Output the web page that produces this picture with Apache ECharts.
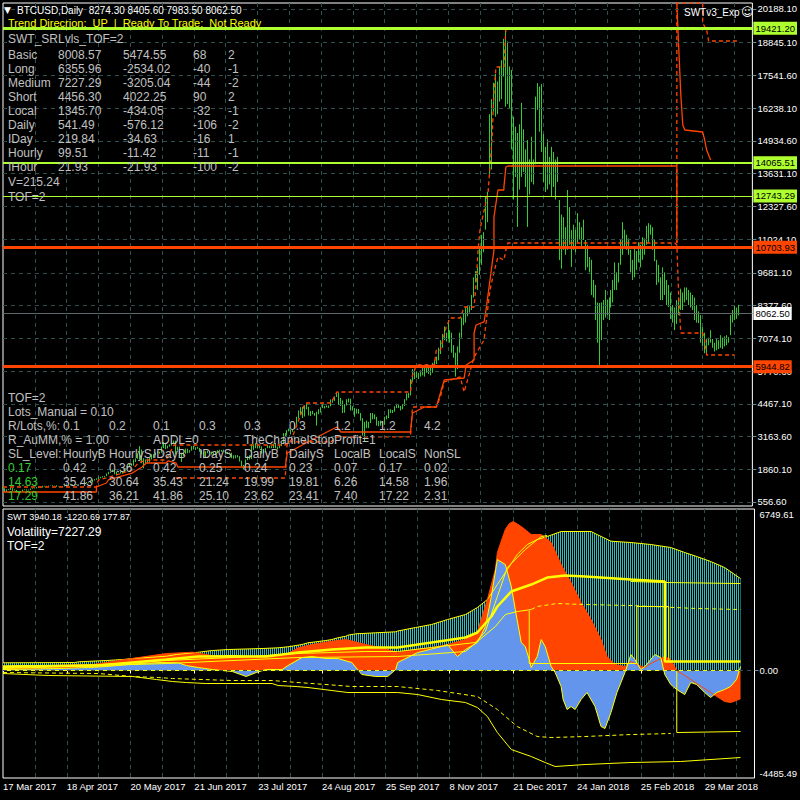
<!DOCTYPE html>
<html><head><meta charset="utf-8">
<script src="https://cdn.jsdelivr.net/npm/echarts@6/dist/echarts.min.js"></script>
<style>html,body{margin:0;padding:0;background:#000;}#c{width:800px;height:800px;}</style>
</head><body><div id="c"></div>
<script>
// ---------------- DATA ----------------
const dateTickLabels = ['17 Mar 2017','18 Apr 2017','20 May 2017','21 Jun 2017','23 Jul 2017','24 Aug 2017','25 Sep 2017','8 Nov 2017','21 Dec 2017','24 Jan 2018','25 Feb 2018','29 Mar 2018'];
const priceTickValues = [20188.10,18845.10,17541.60,16238.10,14934.60,13631.10,12327.60,11024.10,9681.10,8377.60,7074.10,5770.60,4467.10,3163.60,1860.10,556.60];
const priceTickLabels = ['20188.10','18845.10','17541.60','16238.10','14934.60','13631.10','12327.60','11024.10','9681.10','8377.60','7074.10','5770.60','4467.10','3163.60','1860.10','556.60'];
const lowerTickValues = [6749.61, 0, -4485.49];
const lowerTickLabels = ['6749.61','0.00','-4485.49'];
const headerOHLC = ['8274.30','8405.60','7983.50','8062.50'];
const closePrice = 8062.50;
const levelValues = [19421.20, 14065.51, 12743.29, 10703.93, 5944.82];

const barLow = [
1080,960,970,1030,1040,980,1020,920,890,940,960,1030,1010,1020,1030,
1070,1090,1100,1120,1110,1130,1170,1180,1180,1200,1200,1210,1160,1170,1170,1170,1170,1200,1200,1220,1240,1230,1230,1240,1250,1270,1300,1310,1310,1320,
1340,1410,1440,1470,1500,1530,1540,1590,1660,1720,1770,1660,1620,1740,1690,1690,1730,1800,1890,1980,2000,2000,2150,2280,2250,2100,1900,2050,2100,2150,2250,
2300,2420,2500,2480,2520,2700,2660,2690,2760,2800,2870,2450,2600,2380,2150,2380,2480,2500,2520,2600,2650,2630,2680,2560,2450,2300,2330,2500,2500,2450,
2400,2420,2500,2570,2560,2580,2480,2490,2480,2300,2280,2300,2330,2170,1960,1840,1920,2220,2250,2270,2630,2700,2690,2690,2480,2500,2530,2700,2700,2700,2700,
2700,2650,2700,2780,2860,3150,3200,3370,3250,3350,3450,3630,3880,4020,3900,3960,4250,4000,3980,4050,3990,3600,4050,4120,4300,4280,4320,4300,4370,4510,4580,
4740,4420,4380,4100,4110,4400,4520,4200,4200,3950,4080,4070,3800,3200,2980,3500,3500,3700,3850,3850,3600,3580,3600,3600,
3630,3850,3900,4100,4100,4150,4300,4300,4200,4250,4380,4600,4700,4800,5350,5450,5500,5450,5550,5600,5550,5700,5650,5600,5700,5950,6050,6200,6450,6700,7000,6950,
7050,6900,6500,6300,5550,5850,6500,7100,7600,7700,7950,8100,8200,8700,9300,9000,9600,10000,10500,11400,11700,13600,13800,16100,15900,16000,16500,16600,17500,16300,16400,16200,
14600,12600,13500,11510,13000,13500,13700,13100,11510,12800,13300,13200,14000,16170,15300,14500,13300,12900,13000,13200,12700,13100,12600,13300,10190,9850,10600,10400,10600,10800,9920,10600,
10500,10900,11000,10700,10990,9790,9900,9700,8800,8700,7800,6900,5930,7000,7800,7900,8000,7800,8300,8500,9000,9000,9300,10000,10400,10700,10600,10400,9700,9400,9500,9800,10100,
9900,10200,10400,10800,10900,11200,10600,10150,9200,9300,8600,8600,8800,8400,8320,7850,7700,7400,7650,8000,8200,8200,8500,8600,8400,8300,8200,7800,7700,7680,6900,6750,6480,
6480,6800,6900,6700,6550,6600,6650,6700,6650,6750,6800,6900,7200,7700,7800,7850,7983.5];
const barHigh = [
1180,1100,1060,1065,1120,1110,1060,1040,970,1000,1050,1060,1060,1050,1090,
1100,1110,1150,1160,1140,1200,1200,1200,1210,1215,1230,1225,1220,1190,1190,1190,1210,1220,1230,1260,1260,1260,1260,1260,1280,1310,1350,1350,1340,1350,
1450,1470,1500,1560,1560,1580,1590,1690,1760,1770,1850,1830,1760,1790,1770,1760,1840,1900,1990,2080,2090,2250,2290,2490,2780,2650,2300,2250,2290,2330,2450,
2460,2520,2580,2560,2760,2950,2880,2800,2850,2920,3000,3000,2760,2760,2520,2530,2680,2680,2620,2780,2790,2740,2760,2710,2620,2550,2580,2600,2580,2560,
2530,2540,2620,2640,2630,2640,2600,2550,2530,2520,2420,2420,2420,2380,2200,2030,2250,2380,2420,2850,2850,2900,2810,2800,2770,2620,2700,2820,2800,2780,2880,
2900,2760,2830,2880,3300,3300,3420,3480,3440,3450,3700,3950,4200,4330,4350,4400,4480,4350,4180,4190,4100,4150,4250,4330,4450,4380,4400,4400,4640,4650,4760,
4920,4920,4700,4600,4450,4650,4680,4670,4370,4300,4270,4260,4100,3900,3750,3800,3750,4100,4100,4050,3950,3780,3800,3780,
3950,4000,4250,4250,4220,4370,4470,4420,4380,4450,4650,4880,4900,5450,5850,5850,5750,5700,5800,5900,6000,6050,5950,6000,6100,6200,6350,6700,7000,7250,7550,7300,
7800,7400,7300,6800,6500,6750,7300,7900,8050,8300,8400,8350,8800,9500,9750,9900,10700,11200,11300,12700,12900,16000,16600,17250,17600,17300,17900,18150,19000,19430,18900,17900,
17760,15900,15500,15250,15600,16450,15400,14600,14970,14200,15100,14200,16700,17240,17100,17200,15200,14700,15000,14300,14700,14500,14200,14300,12580,12000,11900,11500,12980,12300,11390,11600,
11400,12060,11700,11500,11800,10990,10800,10310,10200,9400,9200,8500,8480,8500,8600,9000,8600,8700,9000,9400,10100,9700,10080,11000,11700,11400,11200,11050,10600,10200,10700,10550,10900,
10800,11100,11050,11550,11660,11600,11500,11000,10200,10000,9500,9900,9700,9400,9200,8900,8400,8300,8600,8700,9050,8900,9100,9100,9000,8900,8800,8700,8400,8150,8000,7520,7300,
7060,7100,7400,7050,6900,7050,7000,7200,7100,7150,7200,7120,8000,8200,8400,8300,8405.6];

// main pane indicator lines [barIndex, price]
const stopSolid = [[0,955],[47,955],[47,1154],[52,1313],[53,1433],[65,1711],[70,1950],[72,2110],[82,2110],[83,2190],[87,2110],[88,1950],[142,1950],[143,2508],[163,3344],[168,3543],[170,3344],[205,3344],[206,4100],[212,4340],[218,4340],[222,5415],[232,5495],[233,6012],[237,6211],[237,7286],[238,7605],[242,7725],[243,8202],[247,10591],[247,11906],[249,12980],[252,12980],[252,13100],[253,13896],[254,13936],[339,13936],[339,10870]];
const stopSolidTop = [[339,20420],[340,18555],[341,16764],[342,15569],[343,15370],[352,15290],[353,14971],[354,14573],[356,14175]];
const dashUpper = [[0,1154],[47,1154],[48,1433],[52,1513],[65,1831],[68,2110],[72,2230],[82,2230],[86,2827],[142,2827],[145,3025],[152,4499],[165,4499],[168,4937],[205,4937],[206,5600],[208,6012],[217,6012],[218,6610],[220,6610],[223,7530],[225,7884],[230,7884],[232,8322],[237,8322],[238,9277],[239,10591],[240,11428],[244,12861],[246,14971],[247,16843],[248,17878],[252,17878],[253,19431],[254,19431]];
const dashLower = [[87,1513],[142,1513],[143,2951],[165,2951],[168,3150],[205,3150],[206,4340],[218,4340],[220,4738],[222,5335],[230,5535],[232,4937],[237,6331],[242,7007],[245,9000],[247,9716],[249,10313],[252,10193],[253,10591],[254,10870],[338,10870],[339,10790],[340,8600],[341,7286],[352,7286],[353,7000],[354,6410],[368,6410]];
const dashTop = [[339,10870],[339,20420],[352,20420],[352,19631],[354,19352],[355,18914],[370,18914]];

// lower pane (SWT) [barIndex, value]
const swtEnvelope = [[0,334],[36,347],[38,378],[52,434],[60,477],[67,534],[75,577],[82,621],[87,694],[98,794],[105,868],[113,911],[130,955],[138,985],[143,1029],[147,1085],[150,1128],[153,1202],[157,1246],[162,1302],[165,1345],[168,1419],[172,1489],[173,1532],[177,1593],[187,1636],[197,1680],[198,1714],[207,1866],[215,1996],[223,2213],[232,2430],[238,2734],[243,3081],[248,3732],[253,4383],[258,5034],[263,5468],[268,5685],[273,5816],[280,6033],[295,6033],[298,5902],[305,5612],[315,5555],[325,5468],[335,5338],[342,5121],[348,4948],[355,4731],[362,4470],[370,3990]];
const swtOrange = [[0,174],[23,217],[45,260],[68,564],[82,738],[95,794],[107,621],[115,621],[132,551],[142,694],[148,985],[155,1128],[165,1272],[172,1345],[182,1128],[190,985],[198,781],[207,911],[215,998],[223,1128],[232,1345],[238,1693],[243,3081],[247,4383],[248,5121],[252,6119],[254,6380],[256,6467],[260,6250],[265,5902],[270,5902],[275,5555],[280,4600],[285,3819],[290,2951],[295,2213],[300,1345],[303,608],[307,260],[312,174],[315,391],[318,260],[322,130],[325,304],[328,434],[332,608],[335,477],[338,0],[342,-217],[348,-564],[355,-955],[362,-1345],[365,-1389],[368,-1302],[370,-1221]];
const swtBlue = [[0,43],[28,87],[43,130],[52,174],[68,304],[80,347],[88,334],[92,217],[98,130],[105,43],[115,-43],[122,-260],[127,-87],[132,43],[140,43],[143,217],[150,564],[155,608],[162,521],[168,521],[175,347],[180,-174],[187,-260],[193,-260],[197,43],[198,347],[208,781],[220,1042],[223,1128],[228,608],[232,911],[238,1215],[242,1910],[245,3212],[248,4817],[252,4600],[255,3646],[257,2647],[260,1215],[262,1042],[264,477],[265,130],[268,608],[270,1345],[272,1042],[275,174],[277,-87],[280,-694],[281,-1259],[283,-1693],[285,-1562],[287,-1693],[290,-1259],[293,-955],[297,-1562],[300,-2430],[302,-2517],[305,-1823],[308,-955],[312,-87],[315,694],[317,477],[320,43],[322,174],[327,694],[330,564],[332,-174],[335,-608],[338,-825],[342,-1042],[345,-521],[348,-608],[352,-955],[355,-1172],[358,-955],[362,-825],[365,-694],[368,-391],[370,178]];
const swtThick = [[0,174],[48,217],[65,347],[82,477],[98,608],[115,621],[132,608],[148,781],[165,911],[182,998],[198,998],[215,1215],[232,1432],[238,1649],[245,2344],[248,2778],[255,3429],[265,3732],[273,4036],[282,4123],[292,4080],[315,3949],[332,3863],[332,391],[370,391]];
const swtThin = [[315,3863],[332,3820],[370,3776]];
const swtMedium = [[0,130],[48,260],[82,434],[115,564],[148,738],[182,825],[198,825],[215,998],[237,1215],[242,1693],[248,3212],[253,4470],[262,5251],[270,5816],[273,5859]];
const swtLowMid = [[0,87],[82,304],[148,564],[198,608],[232,825],[247,1910],[252,2430],[258,2560],[265,2647]];
const swtLowMidDash = [[265,2647],[268,2778],[278,2908],[292,2864],[315,2821],[348,2691],[370,2647]];
const swtStepA = [[264,2604],[264,304],[318,304],[318,2778],[334,2778],[334,391]];
const swtStepB = [[338,0],[338,-2691],[370,-2647]];
const swtLowSolid = [[0,-130],[23,-217],[65,-260],[77,-391],[85,-477],[92,-521],[102,-564],[135,-564],[138,-651],[147,-694],[153,-738],[165,-868],[173,-955],[198,-955],[208,-1042],[220,-1259],[232,-1389],[238,-1606],[243,-1996],[248,-2691],[255,-3429],[265,-3732],[272,-3993],[277,-4166],[292,-4080],[315,-3993],[340,-3949],[370,-3776]];
const swtLowDash = [[0,-87],[48,-130],[65,-260],[78,-304],[85,-347],[115,-434],[135,-434],[148,-521],[162,-608],[175,-694],[198,-694],[218,-868],[238,-1128],[248,-1693],[258,-2430],[268,-2864],[275,-2908],[292,-2864],[315,-2778],[335,-2734]];
const swtZero = [[0,0],[370,0]];

// texts
const trendText = 'Trend Direcrion:  UP  |  Ready To Trade:  Not Ready';
const srTitle = 'SWT_SRLvls_TOF=2';
const srRows = [
 ['Basic','8008.57','5474.55','68','2'],
 ['Long','6355.96','-2534.02','-40','-1'],
 ['Medium','7227.29','-3205.04','-44','-2'],
 ['Short','4456.30','4022.25','90','2'],
 ['Local','1345.70','-434.05','-32','-1'],
 ['Daily','541.49','-576.12','-106','-2'],
 ['IDay','219.84','-34.63','-16','1'],
 ['Hourly','99.51','-11.42','-11','-1'],
 ['IHour','21.93','-21.93','-100','-2']];
const vText = 'V=215.24';
const tofText = 'TOF=2';
const lotsText = 'Lots_Manual = 0.10';
const riskLots = ['0.1','0.2','0.1','0.3','0.3','0.3','1.2','1.2','4.2'];
const aummTexts = ['R_AuMM,% = 1.00','ADDL=0','TheChannelStopProfit=1'];
const slHeaders = ['SL_Level:','HourlyB','HourlyS','IDayB','IDayS','DailyB','DailyS','LocalB','LocalS','NonSL'];
const slRows = [
 ['0.17','0.42','0.36','0.42','0.25','0.24','0.23','0.07','0.17','0.02'],
 ['14.63','35.43','30.64','35.43','21.24','19.99','19.81','6.26','14.58','1.96'],
 ['17.29','41.86','36.21','41.86','25.10','23.62','23.41','7.40','17.22','2.31']];
const swtValues = ['3940.18','-1220.69','177.87'];
const volatilityText = 'Volatility=7227.29';
const expertName = 'SWTv3_Exp';

// ---------------- CHART ----------------
const FW = "'Liberation Sans',Arial,sans-serif";
const GRIDC = '#2F4F4F';
const NSLOT = 378;
const categories = Array.from({length: NSLOT}, (_, i) => String(i));
const ohlc = barLow.map((l, i) => [l, barHigh[i], l, barHigh[i]]);

const pc = document.createElement('canvas'); pc.width = 2; pc.height = 2;
const pctx = pc.getContext('2d');
pctx.fillStyle = '#000'; pctx.fillRect(0, 0, 2, 2);
pctx.fillStyle = '#2EBDBD'; pctx.fillRect(0, 0, 1, 2);

const levelColors = ['#ADFF2F','#ADFF2F','#ADFF2F','#FF4500','#FF4500'];
const levelWidths = [3, 2, 1, 3, 3];

const texts = [];
function T(text, x, y, fill, font) { texts.push({type:'text', x, y, silent:true, z:100, style:{text, fill, font, verticalAlign:'middle', align:'left'}}); }
const SIL = '#C0C0C0';
T('\u25BC', 4, 10, '#fff', "9px 'DejaVu Sans'");
T('BTCUSD,Daily  ' + headerOHLC.join(' '), 17, 10, '#fff', '10px ' + FW);
T(trendText, 8, 23, '#FFFF00', '11px ' + FW);
T(srTitle, 8, 39, SIL, '12px ' + FW);
const srCols = [8, 58, 123, 193, 228];
srRows.forEach((r, ri) => r.forEach((c, ci) => T(c, srCols[ci], 55 + ri * 14, SIL, '12px ' + FW)));
T(vText, 8, 182, SIL, '12px ' + FW);
T(tofText, 8, 197, SIL, '12px ' + FW);
T(expertName, 684, 12, '#fff', '10px ' + FW);
T('\u263A', 741, 12, '#fff', "12px 'DejaVu Sans'");
const slCols = [8, 63, 109, 153, 199, 244, 289, 334, 379, 424];
T(tofText, 8, 398, SIL, '12px ' + FW);
T(lotsText, 8, 412, SIL, '12px ' + FW);
T('R/Lots,%:', 8, 426, SIL, '12px ' + FW);
riskLots.forEach((v, i) => T(v, slCols[i + 1], 426, SIL, '12px ' + FW));
T(aummTexts[0], 8, 440, SIL, '12px ' + FW);
T(aummTexts[1], 153, 440, SIL, '12px ' + FW);
T(aummTexts[2], 244, 440, SIL, '12px ' + FW);
slHeaders.forEach((v, i) => T(v, slCols[i], 454, SIL, '12px ' + FW));
slRows.forEach((r, ri) => r.forEach((v, i) => T(v, slCols[i], 468 + ri * 14, i === 0 ? '#32CD32' : SIL, '12px ' + FW)));
T('SWT ' + swtValues.join(' '), 7, 517, '#fff', '9px ' + FW);
T(volatilityText, 7, 532, '#fff', '12px ' + FW);
T(tofText, 7, 546, '#fff', '12px ' + FW);

function lbl(vals, labs) { return v => { for (let i = 0; i < vals.length; i++) if (Math.abs(vals[i] - v) < 0.01) return labs[i]; return ''; }; }

const hLineStyle = {color: GRIDC, type: [4, 4], width: 1};
function gridLines(xi, yi, vals) {
  return {type:'line', xAxisIndex:xi, yAxisIndex:yi, data:[], silent:true, z:1,
    markLine:{symbol:['none','none'], silent:true, animation:false, label:{show:false},
      lineStyle: hLineStyle, data: vals.map(v => ({yAxis: v}))}};
}
function line(xi, yi, data, color, width, type, z) {
  return {type:'line', xAxisIndex:xi, yAxisIndex:yi, data, showSymbol:false, symbol:'none', silent:true, z: z || 3,
    clip:false, lineStyle:{color, width, type: type || 'solid'}};
}
function xAxisBase(gi, showLabels) {
  return {type:'category', gridIndex:gi, data:categories, boundaryGap:false,
    axisLine:{show:false},
    axisTick:{show:showLabels, interval: i => i % 32 === 0, length:3, inside:false, lineStyle:{color:'#fff'}},
    axisLabel:{show:showLabels, interval: i => i % 32 === 0 && i / 32 < dateTickLabels.length,
      formatter: (v, i) => dateTickLabels[Math.round(+v / 32)] || '', align:'left', margin:3,
      color:'#fff', fontFamily: FW, fontSize: 9.5},
    splitLine:{show:true, interval: i => i > 0 && i % 16 === 0, lineStyle:{color:GRIDC, type:[4,4], width:1}}};
}
const tagLabel = (txt, bg) => ({show:true, position:'end', formatter: txt, color:'#000', backgroundColor: bg, padding:[2,2,1,2], distance:1, fontFamily:FW, fontSize:9.5});

const option = {
  animation:false,
  backgroundColor:'#000',
  grid:[
    {left:3, top:3, width:754, height:503, show:true, borderColor:'#fff', borderWidth:1, backgroundColor:'#000'},
    {left:3, top:509, width:754, height:269, show:true, borderColor:'#fff', borderWidth:1, backgroundColor:'#000'}
  ],
  xAxis:[xAxisBase(0, false), xAxisBase(1, true)],
  yAxis:[
    {type:'value', gridIndex:0, position:'right', min:397.3, max:20427, axisLine:{show:false}, splitLine:{show:false},
      axisTick:{show:true, length:4, customValues: priceTickValues, lineStyle:{color:'#6f8f8f'}},
      axisLabel:{customValues: priceTickValues, formatter: lbl(priceTickValues, priceTickLabels), color:'#fff', fontFamily:FW, fontSize:9.5, margin:5}},
    {type:'value', gridIndex:1, position:'right', min:-4664.6, max:7010, axisLine:{show:false}, splitLine:{show:false},
      axisTick:{show:true, length:4, customValues: [0], lineStyle:{color:'#6f8f8f'}},
      axisLabel:{customValues: lowerTickValues, formatter: lbl(lowerTickValues, lowerTickLabels), color:'#fff', fontFamily:FW, fontSize:9.5, margin:5}}
  ],
  graphic:{elements: texts},
  series:[
    gridLines(0, 0, priceTickValues),
    gridLines(1, 1, [0]),
    {type:'candlestick', xAxisIndex:0, yAxisIndex:0, data: ohlc, barWidth:1, silent:true, z:2,
      itemStyle:{color:'#32CD32', color0:'#32CD32', borderColor:'#32CD32', borderColor0:'#32CD32', borderWidth:1}},
    {type:'line', xAxisIndex:0, yAxisIndex:0, data:[], silent:true, z:3,
      markLine:{symbol:['none','none'], silent:true, animation:false,
        data:[{yAxis: closePrice, lineStyle:{color:'#5A6A6A', width:1, type:'solid'}, label: tagLabel(closePrice.toFixed(2), '#fff')}]}},
    line(0, 0, stopSolid, '#FF4500', 1.3, 'solid', 4),
    line(0, 0, stopSolidTop, '#FF4500', 1.3, 'solid', 4),
    line(0, 0, dashUpper, '#FF4500', 1.3, [4,3], 4),
    line(0, 0, dashLower, '#FF4500', 1.3, [4,3], 4),
    line(0, 0, dashTop, '#FF4500', 1.3, [4,3], 4),
    {type:'line', xAxisIndex:0, yAxisIndex:0, data:[], silent:true, z:5,
      markLine:{symbol:['none','none'], silent:true, animation:false,
        data: levelValues.map((v, i) => ({yAxis: v, lineStyle:{color: levelColors[i], width: levelWidths[i], type:'solid'},
          label: tagLabel(v.toFixed(2), levelColors[i])}))}},
    // lower pane
    {type:'line', xAxisIndex:1, yAxisIndex:1, data: swtEnvelope, showSymbol:false, symbol:'none', silent:true, z:2,
      lineStyle:{color:'#FFFF00', width:1}, areaStyle:{color:{image: pc, repeat:'repeat', imageWidth:2, imageHeight:2}, opacity:1}},
    {type:'line', xAxisIndex:1, yAxisIndex:1, data: swtOrange, showSymbol:false, symbol:'none', silent:true, z:2,
      lineStyle:{color:'#FF4500', width:1}, areaStyle:{color:'#FF4500', opacity:1}},
    {type:'line', xAxisIndex:1, yAxisIndex:1, data: swtBlue, showSymbol:false, symbol:'none', silent:true, z:2,
      lineStyle:{color:'#FFFF00', width:1}, areaStyle:{color:'#6495ED', opacity:1}},
    line(1, 1, swtZero, '#FFFF00', 1),
    line(1, 1, swtThick, '#FFFF00', 2.5),
    line(1, 1, swtThin, '#FFFF00', 1),
    line(1, 1, swtMedium, '#FFFF00', 1),
    line(1, 1, swtLowMid, '#FFFF00', 1),
    line(1, 1, swtLowMidDash, '#FFFF00', 1, [4,3]),
    line(1, 1, swtStepA, '#FFFF00', 1),
    line(1, 1, swtStepB, '#FFFF00', 1),
    line(1, 1, swtLowSolid, '#FFFF00', 1),
    line(1, 1, swtLowDash, '#FFFF00', 1, [4,3])
  ]
};
const chart = echarts.init(document.getElementById('c'), null, {renderer:'svg', width:800, height:800});
chart.setOption(option);
</script></body></html>
